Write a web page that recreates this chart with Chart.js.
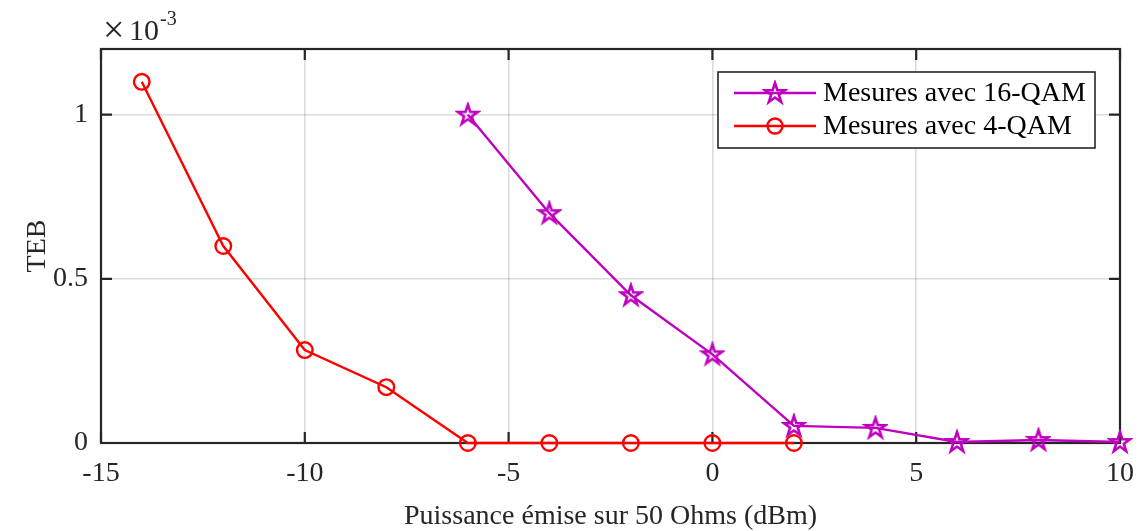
<!DOCTYPE html>
<html>
<head>
<meta charset="utf-8">
<script src="https://cdn.jsdelivr.net/npm/chart.js@4"></script>
<style>
  html, body { margin: 0; padding: 0; background: #fff; }
  #wrap { width: 1140px; height: 531px; }
</style>
</head>
<body>
<div id="wrap"><canvas id="teb"></canvas></div>
<script>
// données (TEB en unités de 1e-3)
const puissance16 = [-6, -4, -2, 0, 2, 4, 6, 8, 10];
const teb16 = [1.0, 0.70, 0.45, 0.27, 0.052, 0.046, 0.003, 0.009, 0.003];
const puissance4 = [-14, -12, -10, -8, -6, -4, -2, 0, 2];
const teb4 = [1.10, 0.60, 0.283, 0.17, 0, 0, 0, 0, 0];
const xTicks = [-15, -10, -5, 0, 5, 10];
const yTicks = [0, 0.5, 1];
const labels = ['Mesures avec 16-QAM', 'Mesures avec 4-QAM'];

const MAG = 'rgb(191,0,191)';
const RED = '#ff0000';
const AXC = '#262626';
const FONT = '"Liberation Serif", "Times New Roman", serif';

// pentagramme (marqueur MATLAB 'p')
function pentagram(color) {
    const c = document.createElement('canvas');
    c.width = 26; c.height = 26;
    const g = c.getContext('2d');
    const R = 10.5, r = R * 0.382;
    g.beginPath();
    for (let k = 0; k < 10; k++) {
        const a = -Math.PI / 2 + k * Math.PI / 5;
        const rr = k % 2 === 0 ? R : r;
        const px = 13 + rr * Math.cos(a), py = 13.5 + rr * Math.sin(a);
        k === 0 ? g.moveTo(px, py) : g.lineTo(px, py);
    }
    g.closePath();
    g.strokeStyle = color;
    g.lineJoin = 'miter';
    g.lineWidth = 2.6;
    g.stroke();
    return c;
}
const star = pentagram(MAG);

const extras = {
    id: 'extras',
    beforeDatasetsDraw(chart) {
        const { ctx, chartArea: a, scales: { x, y } } = chart;
        ctx.save();
        ctx.strokeStyle = AXC;
        ctx.lineWidth = 2.2;
        ctx.strokeRect(a.left, a.top, a.right - a.left, a.bottom - a.top);
        // ticks vers l'intérieur
        ctx.beginPath();
        xTicks.forEach(v => {
            const px = x.getPixelForValue(v);
            ctx.moveTo(px, a.bottom); ctx.lineTo(px, a.bottom - 11);
            ctx.moveTo(px, a.top); ctx.lineTo(px, a.top + 11);
        });
        yTicks.forEach(v => {
            const py = y.getPixelForValue(v);
            ctx.moveTo(a.left, py); ctx.lineTo(a.left + 11, py);
            ctx.moveTo(a.right, py); ctx.lineTo(a.right - 11, py);
        });
        ctx.stroke();
        ctx.restore();
    },
    afterDatasetsDraw(chart) {
        const { ctx, chartArea: a } = chart;
        ctx.save();
        // exposant
        ctx.fillStyle = AXC;
        ctx.textBaseline = 'alphabetic';
        ctx.font = '38px ' + FONT;
        ctx.fillText('\u00d7', a.left + 2, a.top - 7);
        ctx.font = '30px ' + FONT;
        ctx.fillText('10', a.left + 28, a.top - 9);
        ctx.font = '20px ' + FONT;
        ctx.fillText('-3', a.left + 59, a.top - 24);

        // légende
        const bx = 718, by = 72, bw = 377, bh = 76;
        ctx.fillStyle = '#fff';
        ctx.fillRect(bx, by, bw, bh);
        ctx.strokeStyle = AXC;
        ctx.lineWidth = 1.6;
        ctx.strokeRect(bx, by, bw, bh);
        const rows = [93, 126];
        const cols = [MAG, RED];
        rows.forEach((ry, i) => {
            ctx.strokeStyle = cols[i];
            ctx.lineWidth = 2.4;
            ctx.beginPath();
            ctx.moveTo(734, ry); ctx.lineTo(816, ry);
            ctx.stroke();
            if (i === 0) {
                ctx.drawImage(star, 775 - 13, ry - 13);
            } else {
                ctx.beginPath();
                ctx.arc(775, ry, 7.5, 0, Math.PI * 2);
                ctx.stroke();
            }
            ctx.fillStyle = '#000';
            ctx.font = '28px ' + FONT;
            ctx.textBaseline = 'middle';
            ctx.fillText(labels[i], 823, ry + 1);
        });
        ctx.restore();
    }
};

new Chart(document.getElementById('teb'), {
    type: 'line',
    data: {
        datasets: [{
            label: labels[0],
            data: puissance16.map((v, i) => ({ x: v, y: teb16[i] })),
            borderColor: MAG,
            borderWidth: 2.4,
            pointStyle: star,
            pointRadius: 12,
            pointHoverRadius: 12,
            clip: false
        }, {
            label: labels[1],
            data: puissance4.map((v, i) => ({ x: v, y: teb4[i] })),
            borderColor: RED,
            borderWidth: 2.4,
            pointStyle: 'circle',
            pointRadius: 7.8,
            pointHoverRadius: 7.8,
            pointBorderWidth: 2.4,
            pointBackgroundColor: 'rgba(0,0,0,0)',
            pointBorderColor: RED,
            clip: false
        }]
    },
    options: {
        responsive: true,
        maintainAspectRatio: false,
        animation: false,
        layout: { padding: { top: 49, right: 20, left: 0, bottom: 0 } },
        plugins: { legend: { display: false }, tooltip: { enabled: false } },
        scales: {
            x: {
                type: 'linear',
                min: -15, max: 10,
                afterBuildTicks: s => { s.ticks = xTicks.map(v => ({ value: v })); },
                afterFit: s => { s.height = 88; s.paddingLeft = 0; s.paddingRight = 0; },
                grid: { color: 'rgba(0,0,0,0.14)', lineWidth: 1.6, drawTicks: false },
                border: { display: false },
                ticks: { color: AXC, font: { family: FONT, size: 28 }, padding: 14, maxRotation: 0 },
                title: {
                    display: true,
                    text: 'Puissance émise sur 50 Ohms (dBm)',
                    color: AXC,
                    font: { family: FONT, size: 28 },
                    padding: { top: 4, bottom: -2 }
                }
            },
            y: {
                type: 'linear',
                min: 0, max: 1.2,
                afterBuildTicks: s => { s.ticks = yTicks.map(v => ({ value: v })); },
                afterFit: s => { s.width = 101; s.paddingTop = 0; s.paddingBottom = 0; },
                grid: { color: 'rgba(0,0,0,0.14)', lineWidth: 1.6, drawTicks: false },
                border: { display: false },
                ticks: {
                    color: AXC, font: { family: FONT, size: 28 }, padding: 13,
                    callback: v => String(v)
                },
                title: {
                    display: true,
                    text: 'TEB',
                    color: AXC,
                    font: { family: FONT, size: 28 },
                    padding: { top: 21, bottom: 8 }
                }
            }
        }
    },
    plugins: [extras]
});
</script>
</body>
</html>
